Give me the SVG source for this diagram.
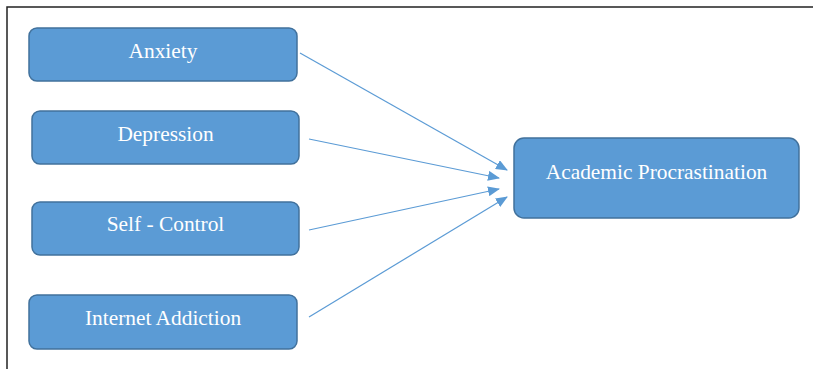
<svg xmlns="http://www.w3.org/2000/svg" width="813" height="369" viewBox="0 0 813 369">
<style>
.box{fill:#5B9BD5;stroke:#41719C;stroke-width:1.5}
.lbl{font-family:"Liberation Serif","Times New Roman",serif;font-size:21.4px;fill:#fff;text-anchor:middle}
.conn{stroke:#5B9BD5;stroke-width:1.2;fill:none;marker-end:url(#ah)}
</style>
<defs>
<marker id="ah" markerWidth="12" markerHeight="10" refX="11" refY="5" orient="auto" markerUnits="userSpaceOnUse">
<path d="M0,0 L12,5 L0,10 Z" fill="#5B9BD5"/>
</marker>
</defs>
<rect width="813" height="369" fill="#fff"/>
<path d="M7,369 V7 H813" stroke="#222" stroke-width="1.5" fill="none"/>
<g id="anxiety"><rect class="box" x="29" y="28" width="268" height="53" rx="8"/><text class="lbl" x="163" y="58">Anxiety</text></g>
<g id="depression"><rect class="box" x="32" y="111" width="267" height="53" rx="8"/><text class="lbl" x="165.5" y="141">Depression</text></g>
<g id="selfcontrol"><rect class="box" x="32" y="202" width="267" height="53" rx="8"/><text class="lbl" x="165.5" y="231">Self - Control</text></g>
<g id="internet"><rect class="box" x="29" y="295" width="268" height="54" rx="8"/><text class="lbl" x="163" y="325">Internet Addiction</text></g>
<g id="academic"><rect class="box" x="514" y="138" width="285" height="80" rx="10"/><text class="lbl" x="656.5" y="179">Academic Procrastination</text></g>
<g id="connectors">
<line class="conn" x1="300" y1="53" x2="507" y2="170"/>
<line class="conn" x1="309" y1="139" x2="499" y2="178"/>
<line class="conn" x1="309" y1="230" x2="499" y2="189"/>
<line class="conn" x1="309" y1="317" x2="507" y2="197"/>
</g>
</svg>
